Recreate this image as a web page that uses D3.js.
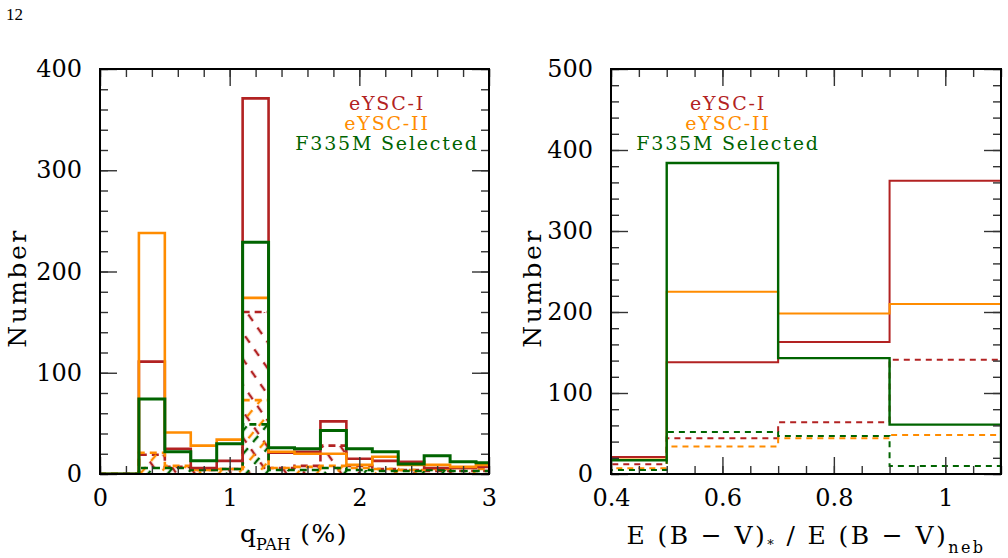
<!DOCTYPE html>
<html><head><meta charset="utf-8">
<script src="https://cdn.jsdelivr.net/npm/d3@7"></script>
<style>
html,body{margin:0;padding:0;background:#fff;}
svg{display:block;}
text{font-family:"DejaVu Serif",serif;}
</style></head>
<body>
<svg id="chart" width="1008" height="558"></svg>
<script>
// ---------- data ----------
const seriesNames = ["eYSC-I", "eYSC-II", "F335M Selected"];
const seriesColors = ["#b22222", "#ff8c00", "#006400"];

// Left panel: q_PAH (%) histogram, bin edges
const qpahEdges = [-0.1,0.1,0.3,0.5,0.7,0.9,1.1,1.3,1.5,1.7,1.9,2.1,2.3,2.5,2.7,2.9,3.1];
const qpahEYSC1 = [0,0,111,25,6,13,371,21,22,52,15,13,12,6,6,7];
const qpahEYSC2 = [0,0,238,41,28,34,174,22,20,20,9,17,9,9,7,9];
const qpahF335  = [0,0,74,22,13,30,229,26,25,43,25,22,10,18,12,11];
const qpahEYSC1Sub = [0,0,19,7,4,5,160,6,8,28,8,5,4,3,3,3];
const qpahEYSC2Sub = [0,0,21,8,4,5,73,6,7,8,6,5,4,5,6,5];
const qpahF335Sub  = [0,0,6,6,4,5,49,4,4,6,4,3,3,4,3,3];
const qpahXTicks = [0,1,2,3];
const qpahYTicks = [0,100,200,300,400];

// Right panel: E(B-V)* / E(B-V)neb histogram
const ebvEdges = [0.4,0.5,0.7,0.9,1.1];
const ebvEYSC1 = [21,138,163,362];
const ebvEYSC2 = [18,225,198,210];
const ebvF335  = [17,384,143,61];
const ebvEYSC1Sub = [12,44,64,141];
const ebvEYSC2Sub = [7,34,44,48];
const ebvF335Sub  = [5,52,47,10];
const ebvXTicks = [0.4,0.6,0.8,1];
const ebvYTicks = [0,100,200,300,400,500];

// ---------- drawing ----------
const svg = d3.select("#chart");
const defs = svg.append("defs");

// hatch patterns (dashed diagonal lines)
function hatch(id, color, angle, offset){
  const p = defs.append("pattern").attr("id", id)
    .attr("patternUnits","userSpaceOnUse").attr("width",16).attr("height",15)
    .attr("patternTransform",`rotate(${angle})`);
  p.append("line").attr("x1",0).attr("x2",16).attr("y1",7+offset).attr("y2",7+offset)
    .attr("stroke",color).attr("stroke-width",2.4).attr("stroke-dasharray","8,8");
}
hatch("h0", seriesColors[0], 55, 0);
hatch("h1", seriesColors[1], -50, 0);
hatch("h2", seriesColors[2], -50, 6);

svg.append("text").attr("x",6).attr("y",20)
  .style("font-family","'Liberation Serif',serif").style("font-size","17px").style("fill","#000").text("12");

function stepPoints(edges, vals){
  const pts = [[edges[0],0]];
  vals.forEach((v,i)=>{ pts.push([edges[i],v]); pts.push([edges[i+1],v]); });
  pts.push([edges[edges.length-1],0]);
  return pts;
}

function panel(cfg){
  const g = svg.append("g");
  const x = d3.scaleLinear().domain(cfg.xDomain).range([cfg.x0,cfg.x1]);
  const y = d3.scaleLinear().domain(cfg.yDomain).range([cfg.y1,cfg.y0]);
  const clipId = "clip"+cfg.id;
  defs.append("clipPath").attr("id",clipId).append("rect")
    .attr("x",cfg.x0).attr("y",cfg.y0).attr("width",cfg.x1-cfg.x0).attr("height",cfg.y1-cfg.y0);
  const line = d3.line().x(d=>x(d[0])).y(d=>y(d[1]));
  const plot = g.append("g").attr("clip-path",`url(#${clipId})`);

  // dashed subsets (with optional hatch)
  cfg.sub.forEach((vals,i)=>{
    const pts = stepPoints(cfg.edges, vals);
    if(cfg.hatch){
      plot.append("path").attr("d", line(pts)+"Z").attr("fill",`url(#h${i})`).attr("stroke","none");
    }
    plot.append("path").attr("d", line(pts)).attr("fill","none")
      .attr("stroke",seriesColors[i]).attr("stroke-width",cfg.sw)
      .attr("stroke-dasharray",cfg.dash);
  });
  // solid full samples
  cfg.full.forEach((vals,i)=>{
    plot.append("path").attr("d", line(stepPoints(cfg.edges, vals))).attr("fill","none")
      .attr("stroke",seriesColors[i]).attr("stroke-width",cfg.sw + (i===2?0.4:0));
  });

  // axes (ticks pointing inward on all four sides)
  const majX = cfg.xTicks, majY = cfg.yTicks;
  const minX = d3.range(cfg.xDomain[0], cfg.xDomain[1]+1e-9, cfg.xMinor);
  const minY = d3.range(cfg.yDomain[0], cfg.yDomain[1]+1e-9, cfg.yMinor);
  function addAxis(axisGen, transform, showLabels){
    const a = g.append("g").attr("transform",transform).call(axisGen);
    a.select(".domain").remove();
    a.selectAll(".tick line").attr("stroke","#333").attr("stroke-width",1.4);
    a.selectAll("text").style("font-family","'DejaVu Serif',serif").style("font-size","24px").style("fill","#000");
    if(!showLabels) a.selectAll("text").remove();
    return a;
  }
  const fmt = d3.format("");
  addAxis(d3.axisBottom(x).tickValues(minX).tickSize(-8).tickFormat(""), `translate(0,${cfg.y1})`, false);
  addAxis(d3.axisBottom(x).tickValues(majX).tickSize(-17).tickPadding(18).tickFormat(fmt), `translate(0,${cfg.y1})`, true)
    .selectAll("text").attr("dy","0.6em");
  addAxis(d3.axisTop(x).tickValues(minX).tickSize(-8).tickFormat(""), `translate(0,${cfg.y0})`, false);
  addAxis(d3.axisTop(x).tickValues(majX).tickSize(-17).tickFormat(""), `translate(0,${cfg.y0})`, false);
  addAxis(d3.axisLeft(y).tickValues(minY).tickSize(-8).tickFormat(""), `translate(${cfg.x0},0)`, false);
  addAxis(d3.axisLeft(y).tickValues(majY).tickSize(-17).tickPadding(18).tickFormat(fmt), `translate(${cfg.x0},0)`, true);
  addAxis(d3.axisRight(y).tickValues(minY).tickSize(-8).tickFormat(""), `translate(${cfg.x1},0)`, false);
  addAxis(d3.axisRight(y).tickValues(majY).tickSize(-17).tickFormat(""), `translate(${cfg.x1},0)`, false);

  g.append("rect").attr("x",cfg.x0).attr("y",cfg.y0).attr("width",cfg.x1-cfg.x0).attr("height",cfg.y1-cfg.y0)
    .attr("fill","none").attr("stroke","#000").attr("stroke-width",2);

  // legend
  seriesNames.forEach((n,i)=>{
    g.append("text").attr("x",cfg.legX).attr("y",110+20*i).attr("text-anchor","middle")
      .style("font-size","19px").style("letter-spacing","1.8px").style("fill",seriesColors[i]).text(n);
  });

  // y title
  g.append("text").attr("transform",`translate(${cfg.yTitleX},288) rotate(-90)`).attr("text-anchor","middle")
    .style("font-size","25px").style("letter-spacing","2.5px").style("fill","#000").text("Number");
  return {g,x,y};
}

const left = panel({id:"L", x0:100, x1:489, y0:69, y1:474, xDomain:[0,3], yDomain:[0,400],
  edges:qpahEdges, full:[qpahEYSC1,qpahEYSC2,qpahF335], sub:[qpahEYSC1Sub,qpahEYSC2Sub,qpahF335Sub],
  hatch:true, sw:2.6, dash:"7,5", xTicks:qpahXTicks, yTicks:qpahYTicks, xMinor:0.2, yMinor:20,
  legX:387, yTitleX:26});
const right = panel({id:"R", x0:611, x1:1001, y0:69, y1:474, xDomain:[0.4,1.1], yDomain:[0,500],
  edges:ebvEdges, full:[ebvEYSC1,ebvEYSC2,ebvF335], sub:[ebvEYSC1Sub,ebvEYSC2Sub,ebvF335Sub],
  hatch:false, sw:2, dash:"6,5", xTicks:ebvXTicks, yTicks:ebvYTicks, xMinor:0.05, yMinor:20,
  legX:728, yTitleX:541});

// x titles
const tl = svg.append("text").attr("x",294).attr("y",542).attr("text-anchor","middle")
  .style("font-size","25px").style("fill","#000");
tl.append("tspan").text("q");
tl.append("tspan").attr("dy",8).style("font-size","16px").text("PAH");
tl.append("tspan").attr("dy",-8).style("letter-spacing","1.5px").text("\u00a0(%)");

const tr = svg.append("text").attr("x",806).attr("y",544).attr("text-anchor","middle")
  .style("font-size","25px").style("letter-spacing","2.4px").style("fill","#000");
tr.append("tspan").text("E (B \u2212 V)");
tr.append("tspan").attr("dy",5).style("font-size","13px").text("*");
tr.append("tspan").attr("dy",-5).text(" / E (B \u2212 V)");
tr.append("tspan").attr("dy",9).style("font-size","16px").text("neb");
</script>
</body></html>
